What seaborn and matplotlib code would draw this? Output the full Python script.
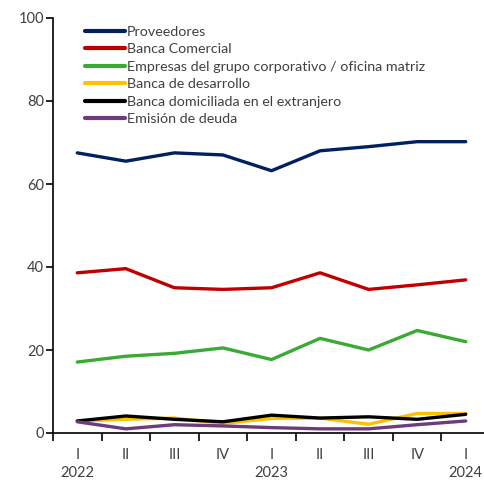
import matplotlib
matplotlib.use("Agg")
import matplotlib.pyplot as plt
import seaborn as sns
import pandas as pd
import numpy as np

quarters = ["I", "II", "III", "IV", "I", "II", "III", "IV", "I"]
years = ["2022", "", "", "", "2023", "", "", "", "2024"]

proveedores = [67.5, 65.5, 67.5, 67.0, 63.2, 68.0, 69.0, 70.2, 70.2]
banca_comercial = [38.6, 39.6, 35.0, 34.6, 35.0, 38.6, 34.6, 35.7, 36.9]
empresas_grupo = [17.1, 18.5, 19.2, 20.5, 17.7, 22.8, 20.0, 24.7, 22.0]
banca_desarrollo = [2.9, 3.3, 3.6, 2.3, 3.5, 3.6, 2.1, 4.7, 4.7]
banca_extranjero = [2.9, 4.1, 3.3, 2.7, 4.3, 3.6, 3.9, 3.3, 4.5]
emision_deuda = [2.7, 1.0, 2.0, 1.7, 1.3, 1.0, 1.0, 2.0, 2.9]

series_names = [
    "Proveedores",
    "Banca Comercial",
    "Empresas del grupo corporativo / oficina matriz",
    "Banca de desarrollo",
    "Banca domiciliada en el extranjero",
    "Emisión de deuda",
]
series_values = [proveedores, banca_comercial, empresas_grupo,
                 banca_desarrollo, banca_extranjero, emision_deuda]
colors = ["#002060", "#C00000", "#3AAA35", "#FFC000", "#000000", "#6E3B7E"]

rows = []
for name, vals in zip(series_names, series_values):
    for i, v in enumerate(vals):
        rows.append({"periodo": i, "serie": name, "valor": v})
df = pd.DataFrame(rows)

sns.set_theme(style="white")
plt.rcParams["font.family"] = ["Lato", "DejaVu Sans"]
text_color = "#404040"

fig = plt.figure(figsize=(4.85, 4.80), dpi=100)
W, H = 485, 480
left, right, top, bottom = 53, 490, 18, 433
ax = fig.add_axes([left / W, 1 - bottom / H, (right - left) / W, (bottom - top) / H])

sns.lineplot(data=df, x="periodo", y="valor", hue="serie", hue_order=series_names,
             palette=colors, linewidth=2.4, ax=ax, legend=True, sort=False)

ax.set_xlim(-0.5, 8.5)
ax.set_ylim(0, 100)
ax.set_yticks(np.arange(0, 101, 20))
ax.set_xlabel("")
ax.set_ylabel("")

for s in ["top", "right"]:
    ax.spines[s].set_visible(False)
for s in ["left", "bottom"]:
    ax.spines[s].set_color("black")
    ax.spines[s].set_linewidth(1.2)

ax.tick_params(axis="y", which="major", direction="out", length=5, width=1.2,
               color="black", labelsize=10.5, labelcolor=text_color, pad=1.5, left=True)

# period boundaries carry tick marks, the category centres carry the labels
ax.set_xticks(np.arange(-0.5, 8.6, 1.0))
ax.set_xticklabels([])
ax.tick_params(axis="x", which="major", direction="out", length=6, width=1.2,
               color="black", bottom=True)
ax.set_xticks(np.arange(9), minor=True)
labels = [q if y == "" else f"{q}\n{y}" for q, y in zip(quarters, years)]
ax.set_xticklabels(labels, minor=True)
ax.tick_params(axis="x", which="minor", length=0, pad=11, labelsize=10.5,
               labelcolor=text_color)
for t in ax.get_xticklabels(minor=True):
    t.set_linespacing(1.38)

handles, labs = ax.get_legend_handles_labels()
leg = ax.legend(handles, labs, loc="upper left",
                bbox_to_anchor=(85 / W, 1 - 26 / H), bbox_transform=fig.transFigure,
                frameon=False, fontsize=10.3, handlelength=2.8, handletextpad=0.14,
                labelspacing=0.38, borderaxespad=0, borderpad=0)
for t in leg.get_texts():
    t.set_color(text_color)
for l in leg.get_lines():
    l.set_linewidth(3)

fig.savefig("out.png", dpi=100)
